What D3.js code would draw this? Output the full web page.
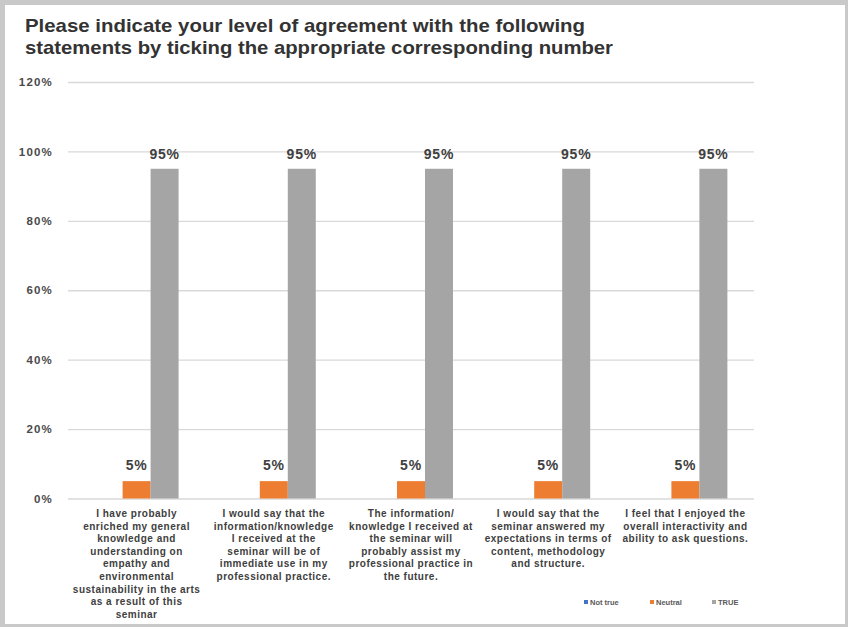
<!DOCTYPE html>
<html><head><meta charset="utf-8">
<script src="https://cdn.jsdelivr.net/npm/d3@7"></script>
<style>body{margin:0;background:#c9c9c9;}svg{display:block;}</style>
</head><body>
<svg id="c" width="848" height="627"></svg>
<script>
const titleLines = ["Please indicate your level of agreement with the following",
  "statements by ticking the appropriate corresponding number"];
const categories = [
  ["I have probably","enriched my general","knowledge and","understanding on","empathy and","environmental","sustainability in the arts","as a result of this","seminar"],
  ["I would say that the","information/knowledge","I received at the","seminar will be of","immediate use in my","professional practice."],
  ["The information/","knowledge I received at","the seminar will","probably assist my","professional practice in","the future."],
  ["I would say that the","seminar answered my","expectations in terms of","content, methodology","and structure."],
  ["I feel that I enjoyed the","overall interactivity and","ability to ask questions."]
];
const seriesNames = ["Not true","Neutral","TRUE"];
const seriesColors = ["#4472C4","#ED7D31","#A5A5A5"];
const notTrue = [0,0,0,0,0];
const neutral = [5,5,5,5,5];
const trueVals = [95,95,95,95,95];
const yTicks = [0,20,40,60,80,100,120];

const svg = d3.select("#c");
svg.append("rect").attr("x",5).attr("y",5).attr("width",840).attr("height",619).attr("fill","#fff");

const font = "'Liberation Sans', Arial, sans-serif";
const pLeft=68, pRight=754, pTop=82, pBottom=498.5;
const x0 = d3.scaleBand().domain(d3.range(categories.length)).range([pLeft,pRight]).paddingInner(0.388).paddingOuter(0.194);
const x1 = d3.scaleBand().domain(seriesNames).range([0,x0.bandwidth()]);
const y = d3.scaleLinear().domain([0,120]).range([pBottom,pTop]);

// title
const tt = svg.append("g");
const titleW=[560,588];
titleLines.forEach((t,i)=>{
  tt.append("text").attr("x",25).attr("y",32+i*21.5).text(t)
    .attr("font-family",font).attr("font-weight","bold").attr("font-size",19).attr("fill","#333")
    .attr("textLength",titleW[i]).attr("lengthAdjust","spacingAndGlyphs");
});

// grid + y axis
const yAxis = d3.axisLeft(y).tickValues(yTicks).tickSize(-(pRight-pLeft)).tickFormat(d=>d+"%");
const ga = svg.append("g").attr("transform",`translate(${pLeft},0)`).call(yAxis);
ga.select(".domain").remove();
ga.selectAll(".tick line").attr("stroke","#d9d9d9").attr("stroke-width",1.3);
ga.selectAll(".tick text").attr("x",-15).attr("font-family",font).attr("font-weight","bold")
  .attr("font-size",11.5).attr("letter-spacing",1.2).attr("fill","#4a4a4a");

const series = [notTrue, neutral, trueVals];
series.forEach((vals,si)=>{
  const g = svg.append("g");
  g.selectAll("rect").data(vals).join("rect")
    .attr("x",(d,i)=>x0(i)+x1(seriesNames[si]))
    .attr("width",x1.bandwidth())
    .attr("y",d=>y(d)).attr("height",d=>y(0)-y(d))
    .attr("fill",seriesColors[si]);
  if(si>0){
    g.selectAll("text").data(vals).join("text")
      .attr("x",(d,i)=>x0(i)+x1(seriesNames[si])+x1.bandwidth()/2)
      .attr("y",d=>y(d)-(si===1?11:10))
      .attr("text-anchor","middle").attr("font-family",font).attr("font-weight","bold")
      .attr("font-size",14).attr("letter-spacing",0.8).attr("fill","#404040").text(d=>d+"%");
  }
});

// x-axis labels
const xl = svg.append("g");
categories.forEach((lines,i)=>{
  const t = xl.append("text").attr("text-anchor","middle").attr("font-family",font)
    .attr("font-weight","bold").attr("font-size",10).attr("letter-spacing",0.5).attr("fill","#404040");
  lines.forEach((l,j)=>{
    t.append("tspan").attr("x",x0(i)+x0.bandwidth()/2).attr("y",517+j*12.6).text(l);
  });
});

// legend
const legX=[584,650,712];
seriesNames.forEach((n,i)=>{
  svg.append("rect").attr("x",legX[i]).attr("y",600).attr("width",4).attr("height",4).attr("fill",seriesColors[i]);
  svg.append("text").attr("x",legX[i]+6).attr("y",605).text(n).attr("font-family",font)
    .attr("font-weight","bold").attr("font-size",7.5).attr("fill","#595959");
});
</script>
</body></html>
